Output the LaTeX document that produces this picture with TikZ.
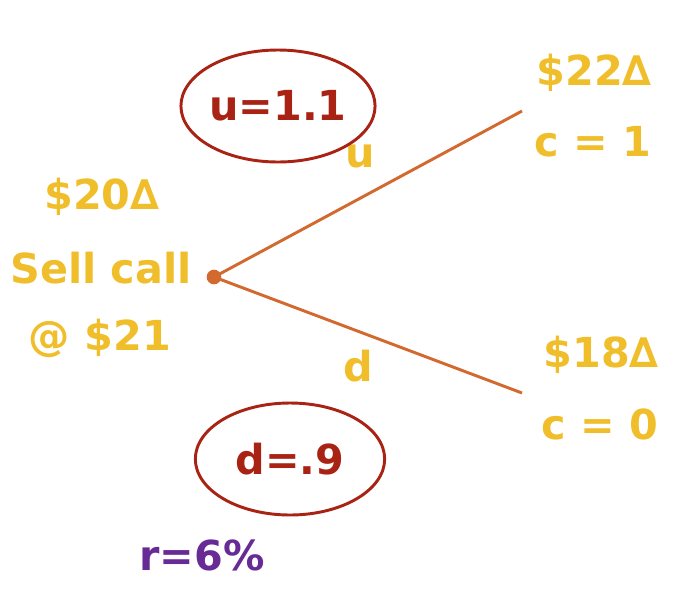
\documentclass[tikz,border=0pt]{standalone}
\usepackage{fontspec}
\setmainfont{DejaVu Sans}
\usetikzlibrary{shapes.geometric}
\definecolor{callyellow}{HTML}{F0BE2A}
\definecolor{factred}{HTML}{A82314}
\definecolor{branchorange}{HTML}{D2692F}
\definecolor{ratepurple}{HTML}{682A94}
\tikzset{
  price/.style={text=callyellow,font=\fontsize{31}{36}\selectfont\bfseries},
  factor/.style={draw=factred,line width=2.2pt,ellipse,text=factred,inner sep=0pt,
    minimum width=142pt,minimum height=84pt,font=\fontsize{31}{36}\selectfont\bfseries},
  branch/.style={draw=branchorange,line width=2.2pt}
}
\begin{document}
\begin{tikzpicture}[x=0.75pt,y=-0.75pt]
				\useasboundingbox (0,0) rectangle (700,590);
				
				\node[price] (s0) at (102,197) {\$20∆};
				\node[price] (sell) at (101,268) {Sell call};
				\node[price] (strike) at (100,338) {@ \$21};
				
				\node[circle,fill=branchorange,inner sep=0pt,minimum size=11pt] (root) at (214,277) {};
				\coordinate (upend) at (522,111);
				\coordinate (downend) at (522,393);
				\draw[branch] (root.center) -- (upend);
				\draw[branch] (root.center) -- (downend);
				
				\node[price] (ulabel) at (360,156) {u};
				\node[price] (dlabel) at (358,366) {d};
				
				\node[factor] (ufactor) at (278,106) {u=1.1};
				\node[factor] (dfactor) at (290,459) {d=.9};
				
				\node[price] (su) at (594,73) {\$22∆};
				\node[price] (cu) at (593,142) {c = 1};
				\node[price] (sd) at (601,355) {\$18∆};
				\node[price] (cd) at (600,424) {c = 0};
				
				\node[text=ratepurple,font=\fontsize{31}{36}\selectfont\bfseries] (rate) at (202,555) {r=6\%};
			\end{tikzpicture}
\end{document}
